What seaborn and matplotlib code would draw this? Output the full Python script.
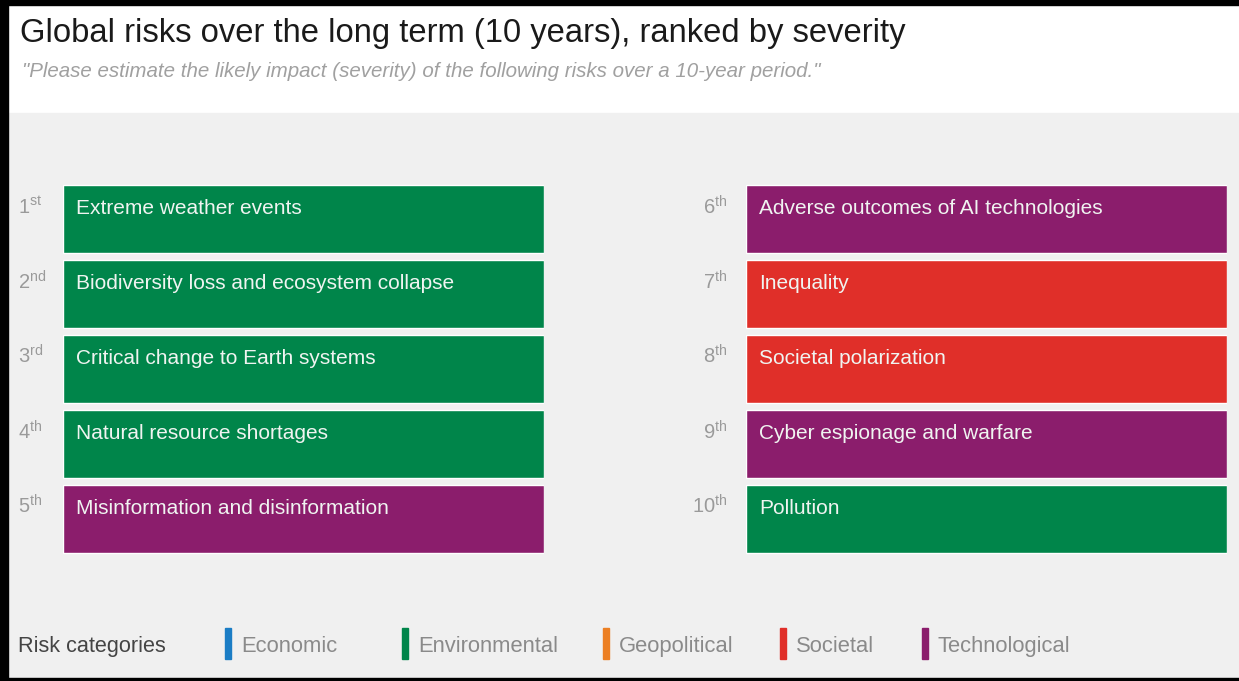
import pandas as pd
import seaborn as sns
import matplotlib.pyplot as plt
from matplotlib.patches import Rectangle

# data
ranks = [1, 2, 3, 4, 5, 6, 7, 8, 9, 10]
suffixes = ["st", "nd", "rd", "th", "th", "th", "th", "th", "th", "th"]
risks = ["Extreme weather events",
         "Biodiversity loss and ecosystem collapse",
         "Critical change to Earth systems",
         "Natural resource shortages",
         "Misinformation and disinformation",
         "Adverse outcomes of AI technologies",
         "Inequality",
         "Societal polarization",
         "Cyber espionage and warfare",
         "Pollution"]
risk_cat = ["Environmental", "Environmental", "Environmental", "Environmental",
            "Technological", "Technological", "Societal", "Societal",
            "Technological", "Environmental"]
categories = ["Economic", "Environmental", "Geopolitical", "Societal", "Technological"]
cat_colors = ["#1b7dc5", "#00854a", "#ec7f23", "#e02f29", "#8b1d6c"]

df = pd.DataFrame({"rank": ranks, "suffix": suffixes, "risk": risks,
                   "category": risk_cat, "value": 1.0})
pal = dict(zip(categories, cat_colors))

sns.set_theme(style="white")
plt.rcParams["font.family"] = ["Liberation Sans", "DejaVu Sans"]
plt.rcParams["mathtext.default"] = "regular"

W, H = 1239, 681
fig = plt.figure(figsize=(W / 100, H / 100), dpi=100)
fig.patch.set_facecolor("white")


def fx(px):
    return px / W


def fy(py):
    return 1 - py / H


def rect(x0, y0, x1, y1, color, z=-10):
    fig.patches.append(Rectangle((fx(x0), fy(y1)), fx(x1 - x0), (y1 - y0) / H,
                                 transform=fig.transFigure, color=color, zorder=z))


# background panels and frame
rect(0, 113, W, 681, "#f0f0f0")
rect(0, 0, 8, 681, "black", 5)
rect(0, 0, W, 5, "black", 5)
rect(0, 678, W, 681, "black", 5)

fig.text(fx(20), fy(42), "Global risks over the long term (10 years), ranked by severity",
         fontsize=23.6, color="#1a1a1a", va="baseline", ha="left")
fig.text(fx(22), fy(77),
         "\"Please estimate the likely impact (severity) of the following risks over a 10-year period.\"",
         fontsize=14.8, color="#a0a0a0", style="italic", va="baseline", ha="left")

# two columns of ranked bars
cols = [(63, df.iloc[:5], "left"), (746, df.iloc[5:], "right")]
for x0, sub, side in cols:
    ax = fig.add_axes([fx(x0), fy(556.5), fx(481), 375 / H])
    sns.barplot(data=sub, x="value", y="risk", hue="category", palette=pal,
                dodge=False, width=68 / 75, orient="h", legend=False,
                saturation=1, ax=ax)
    ax.set_xlim(0, 1)
    ax.set_ylim(4.5, -0.5)
    ax.axis("off")
    tr = ax.get_yaxis_transform()
    for i, row in enumerate(sub.itertuples()):
        yb = i - 5 / 75
        ax.text(13 / 481, yb, row.risk, color="#f0f4f1", fontsize=15,
                va="baseline", ha="left", transform=tr)
        lab = f"{row.rank}$^{{{row.suffix}}}$"
        if side == "left":
            ax.text(-45 / 481, yb, lab, color="#9a9a9a", fontsize=14.5,
                    va="baseline", ha="left", transform=tr)
        else:
            ax.text(-19 / 481, yb, lab, color="#9a9a9a", fontsize=14.5,
                    va="baseline", ha="right", transform=tr)

# legend
fig.text(fx(18), fy(652), "Risk categories", fontsize=15.6, color="#444444",
         va="baseline", ha="left")
leg_x = [227, 404, 605, 782, 924]
for lx, cat, col in zip(leg_x, categories, cat_colors):
    rect(lx - 2.5, 628, lx + 3.5, 659, col, 1)
    fig.text(fx(lx + 14), fy(652), cat, fontsize=15.8, color="#8a8a8a",
             va="baseline", ha="left")

fig.savefig("out.png", dpi=100)
